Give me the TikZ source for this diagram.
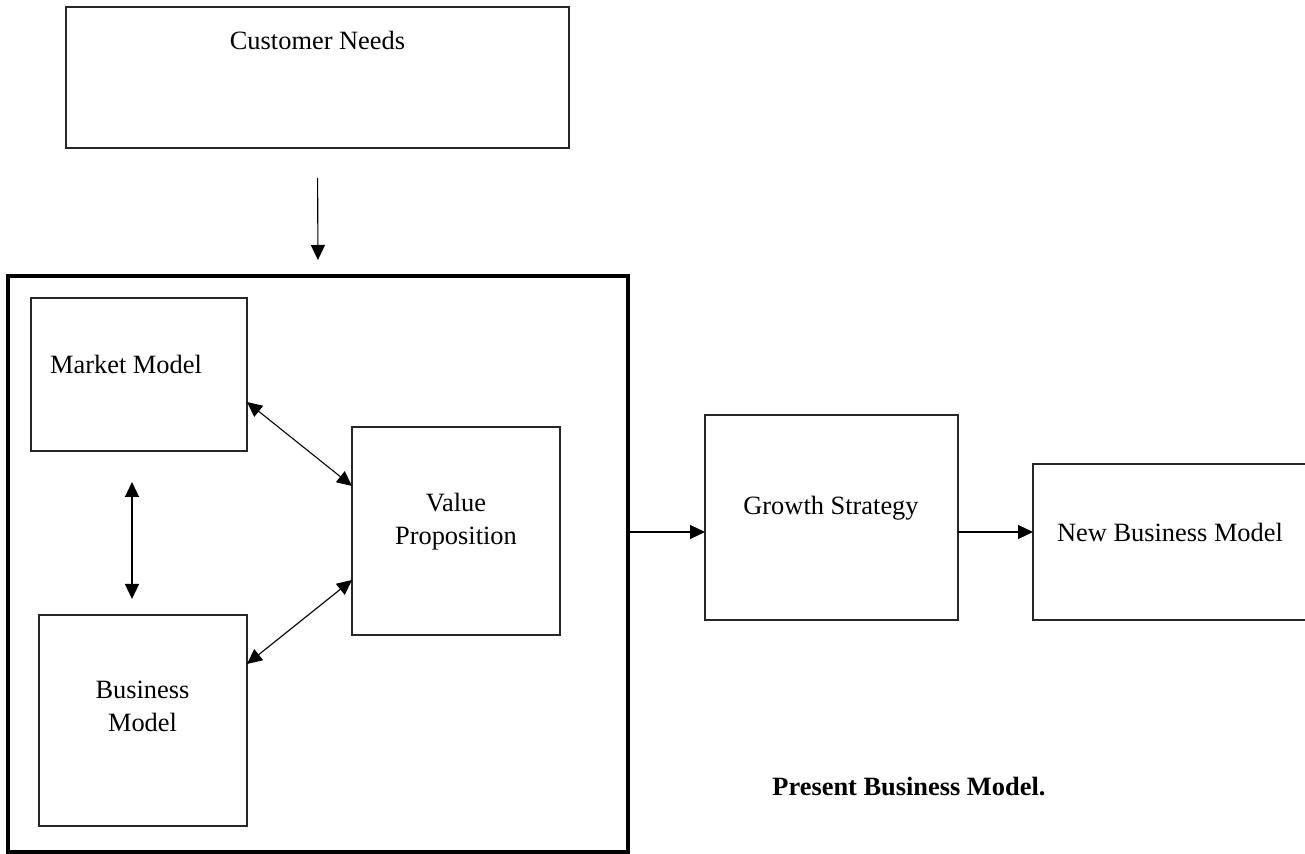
\documentclass[tikz,border=0pt]{standalone}
\usepackage{fontspec}
\setmainfont{Liberation Serif}
\usetikzlibrary{arrows.meta,calc}
\begin{document}
\begin{tikzpicture}[x=0.5pt,y=-0.5pt,
  box/.style={draw=black!85, line width=0.7pt, anchor=north west, inner sep=0pt, outer sep=0pt},
  bigbox/.style={draw=black, line width=1.6pt, anchor=north west, inner sep=0pt, outer sep=0pt},
  txt/.style={font=\fontsize{13.2}{16.5}\selectfont, align=center, inner sep=0pt},
  tip/.style={},
  conn/.style={line width=0.55pt, -{Triangle[length=7.5pt,width=7pt]}},
  dconn/.style={line width=0.55pt, {Triangle[length=7.5pt,width=7pt]}-{Triangle[length=7.5pt,width=7pt]}}]
\useasboundingbox (0,0) rectangle (1305,854);
\fill[white] (0,0) rectangle (1305,854);
\clip (0,0) rectangle (1305,854);

% boxes
\node[box, minimum width=251.5pt, minimum height=70.5pt] (cn) at (66,7) {};
\node[bigbox, minimum width=310pt, minimum height=288pt] (big) at (8,276) {};
\node[box, minimum width=108pt, minimum height=76.5pt] (mm) at (31,298) {};
\node[box, minimum width=104pt, minimum height=104pt] (vp) at (352,427) {};
\node[box, minimum width=104pt, minimum height=105.5pt] (bm) at (39,615) {};
\node[box, minimum width=126.5pt, minimum height=102.5pt] (gs) at (705,415) {};
\node[box, minimum width=139.5pt, minimum height=78pt] (nbm) at (1033,464) {};

% texts
\node[txt] (cnt) at (317.5,40) {Customer Needs};
\node[txt] (mmt) at (126,364) {Market Model};
\node[txt] (vpt) at (456,521.5) {Value\\Proposition};
\node[txt] (bmt) at (142.5,706.5) {Business\\Model};
\node[txt] (gst) at (831,508) {Growth Strategy};
\node[txt] (nbmt) at (1170,532) {New Business Model};
\node[txt, anchor=west, font=\fontsize{13.2}{16.5}\selectfont\bfseries] (pbm) at (772,787) {Present Business Model.};

% connectors
\draw[conn, shorten <=15pt, shorten >=8pt] (cn.south) -- (big.north);
\draw[dconn] ([yshift=-13.75pt]mm.east) -- ([yshift=22.5pt]vp.west);
\draw[dconn] ([yshift=28.25pt]bm.east) -- ([yshift=-24.5pt]vp.west);
\coordinate (vtop) at ([xshift=-3.5pt]mm.south);
\draw[dconn, shorten <=15.5pt, shorten >=8pt] (vtop) -- (vtop |- bm.north);
\coordinate (a1) at ([yshift=-7.25pt]gs.west);
\draw[conn] (a1 -| big.east) -- (a1);
\coordinate (a2) at ([yshift=-7.25pt]gs.east);
\draw[conn] (a2) -- (a2 -| nbm.west);
\end{tikzpicture}
\end{document}
